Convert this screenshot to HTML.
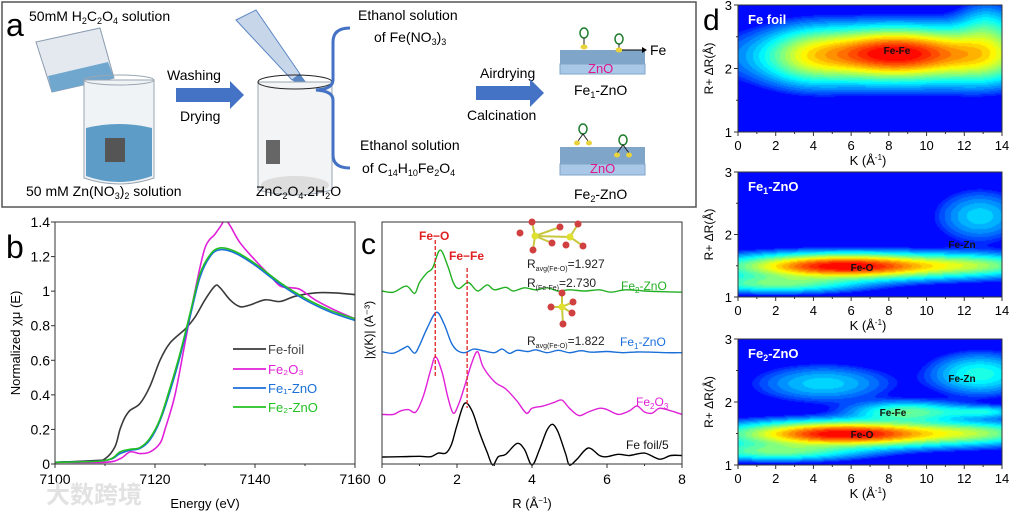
<!DOCTYPE html>
<html><head><meta charset="utf-8">
<style>
html,body{margin:0;padding:0;background:#fff;}
#wrap{position:relative;width:1009px;height:513px;overflow:hidden;font-family:"Liberation Sans","Noto Sans CJK SC",sans-serif;}
canvas{position:absolute;}
svg{position:absolute;left:0;top:0;}
text{font-family:"Liberation Sans","Noto Sans CJK SC",sans-serif;}
</style></head>
<body>
<div id="wrap">
<canvas id="hm0" width="264" height="127" style="left:738px;top:5px"></canvas>
<canvas id="hm1" width="264" height="125" style="left:738px;top:172px"></canvas>
<canvas id="hm2" width="264" height="126" style="left:738px;top:339px"></canvas>
<svg id="svg" width="1009" height="513" xmlns="http://www.w3.org/2000/svg">
<g>
<rect x="2" y="2" width="694" height="205" fill="#fff" stroke="#555" stroke-width="1.5"/>
<text x="6" y="36" font-size="32">a</text>
<text x="29" y="21" font-size="14">50mM H<tspan font-size="9" dy="3">2</tspan><tspan dy="-3">C</tspan><tspan font-size="9" dy="3">2</tspan><tspan dy="-3">O</tspan><tspan font-size="9" dy="3">4</tspan><tspan dy="-3"> solution</tspan></text>
<g>
<path d="M36 42 L100 28 L114 78 L52 92 Z" fill="#e4e9ef" stroke="#8a9bb0"/>
<path d="M48 76 L108 62 L114 78 L52 92 Z" fill="#6fa7cf"/>
<line x1="102" y1="82" x2="104" y2="120" stroke="#cfe3f2" stroke-width="2"/>
</g>
<g>
<path d="M84 80 L154 80 L154 178 Q119 190 84 178 Z" fill="#f0f3f6" stroke="#9aa6b2"/>
<ellipse cx="119" cy="80" rx="35" ry="5" fill="none" stroke="#9aa6b2"/>
<path d="M86 128 Q119 120 152 128 L152 176 Q119 188 86 176 Z" fill="#5e9cc8"/>
<rect x="105" y="138" width="20" height="24" fill="#555"/>
</g>
<text x="26" y="196" font-size="14">50 mM Zn(NO<tspan font-size="9" dy="3">3</tspan><tspan dy="-3">)</tspan><tspan font-size="9" dy="3">2</tspan><tspan dy="-3"> solution</tspan></text>
<text x="167" y="80" font-size="14">Washing</text>
<path d="M176 88 L230 88 L230 81 L244 95 L230 109 L230 102 L176 102 Z" fill="#4472c4"/>
<text x="180" y="121" font-size="14">Drying</text>
<g>
<path d="M236 20 L256 10 L300 74 L292 80 Z" fill="#c8d6ea" stroke="#5b86c4"/>
<path d="M292 80 L300 74 L312 90 L308 92 Z" fill="#5b86c4"/>
</g>
<g>
<path d="M258 82 L332 82 L332 190 Q295 200 258 190 Z" fill="#f3f4f5" stroke="#9aa6b2"/>
<ellipse cx="295" cy="82" rx="37" ry="7" fill="none" stroke="#222"/>
<rect x="266" y="140" width="14" height="24" fill="#666"/>
<ellipse cx="295" cy="185" rx="34" ry="9" fill="#ddd"/>
</g>
<text x="256" y="196" font-size="14">ZnC<tspan font-size="9" dy="3">2</tspan><tspan dy="-3">O</tspan><tspan font-size="9" dy="3">4</tspan><tspan dy="-3">.2H</tspan><tspan font-size="9" dy="3">2</tspan><tspan dy="-3">O</tspan></text>
<path d="M350 28 Q333 28 333 42 L333 80 Q333 89 316 90 Q333 91 333 100 L333 155 Q333 168 350 168" fill="none" stroke="#4472c4" stroke-width="3"/>
<text x="358" y="20" font-size="14">Ethanol solution</text>
<text x="374" y="42" font-size="14">of Fe(NO<tspan font-size="9" dy="3">3</tspan><tspan dy="-3">)</tspan><tspan font-size="9" dy="3">3</tspan></text>
<text x="360" y="150" font-size="14">Ethanol solution</text>
<text x="362" y="173" font-size="14">of C<tspan font-size="9" dy="3">14</tspan><tspan dy="-3">H</tspan><tspan font-size="9" dy="3">10</tspan><tspan dy="-3">Fe</tspan><tspan font-size="9" dy="3">2</tspan><tspan dy="-3">O</tspan><tspan font-size="9" dy="3">4</tspan></text>
<text x="480" y="78" font-size="14">Airdrying</text>
<path d="M476 86 L530 86 L530 79 L544 93 L530 107 L530 100 L476 100 Z" fill="#4472c4"/>
<text x="467" y="120" font-size="14">Calcination</text>
<g>
<path d="M560 50 L645 50 L645 64 L560 64 Z" fill="#7fa6c9"/>
<path d="M560 64 L645 64 L645 74 L560 74 Z" fill="#a9c8e8" stroke="#7fa6c9"/>
<text x="588" y="73" font-size="13" fill="#e0168c">ZnO</text>
<ellipse cx="584" cy="33" rx="4" ry="5" fill="none" stroke="#1a7a2a" stroke-width="1.5"/>
<line x1="584" y1="38" x2="584" y2="46" stroke="#222"/>
<ellipse cx="584" cy="47" rx="3.5" ry="2.5" fill="#e9d23a"/>
<ellipse cx="619" cy="39" rx="4" ry="5" fill="none" stroke="#1a7a2a" stroke-width="1.5"/>
<line x1="619" y1="44" x2="619" y2="49" stroke="#222"/>
<ellipse cx="619" cy="50" rx="3.5" ry="2.5" fill="#e9d23a"/>
<line x1="622" y1="50" x2="642" y2="50" stroke="#000"/><path d="M642 47 L647 50 L642 53 Z"/>
</g>
<text x="650" y="55" font-size="14">Fe</text>
<text x="574" y="95" font-size="14">Fe<tspan font-size="9" dy="3">1</tspan><tspan dy="-3">-ZnO</tspan></text>
<g>
<path d="M560 147 L645 147 L645 164 L560 164 Z" fill="#7fa6c9"/>
<path d="M560 164 L645 164 L645 175 L560 175 Z" fill="#a9c8e8" stroke="#7fa6c9"/>
<text x="590" y="173" font-size="13" fill="#e0168c">ZnO</text>
<ellipse cx="583" cy="129" rx="4" ry="5" fill="none" stroke="#1a7a2a" stroke-width="1.5"/>
<path d="M578 141 L583 134 L588 141" fill="none" stroke="#222"/>
<ellipse cx="577" cy="143" rx="3" ry="2.5" fill="#e9d23a"/><ellipse cx="589" cy="143" rx="3" ry="2.5" fill="#e9d23a"/>
<ellipse cx="623" cy="140" rx="4" ry="5" fill="none" stroke="#1a7a2a" stroke-width="1.5"/>
<path d="M617 153 L623 145 L629 153" fill="none" stroke="#222"/>
<ellipse cx="617" cy="155" rx="3" ry="2.5" fill="#e9d23a"/><ellipse cx="629" cy="155" rx="3" ry="2.5" fill="#e9d23a"/>
</g>
<text x="574" y="199" font-size="14">Fe<tspan font-size="9" dy="3">2</tspan><tspan dy="-3">-ZnO</tspan></text>
</g>
<g id="pb"></g>
<g id="pc"></g>
<g id="pd"></g>
<text x="46" y="503" font-size="24" fill="#e2e2e2" font-weight="bold">大数跨境</text>
</svg>
</div>
<script>
// ===== Panel b data (XANES) =====
const bFoilE=[7100,7108,7110,7112,7113,7114,7115,7117,7119,7121,7123,7126,7128,7130,7132,7133,7135,7137,7139,7142,7145,7148,7152,7156,7160];
const bFoilMu=[0.01,0.02,0.03,0.1,0.2,0.27,0.31,0.35,0.45,0.6,0.7,0.78,0.85,0.95,1.03,1.02,0.95,0.91,0.92,0.95,0.94,0.97,0.99,0.99,0.98];
const bFe2O3E=[7100,7110,7113,7115,7117,7119,7121,7122,7124,7126,7128,7130,7132,7133,7134,7135,7137,7140,7143,7145,7147,7149,7152,7156,7160];
const bFe2O3Mu=[0.01,0.01,0.03,0.07,0.06,0.07,0.12,0.2,0.4,0.7,1.0,1.25,1.33,1.37,1.41,1.38,1.28,1.18,1.09,1.03,1.02,1.01,0.95,0.89,0.84];
const bFe1E=[7100,7110,7113,7115,7117,7119,7121,7123,7125,7127,7129,7131,7133,7136,7140,7145,7150,7155,7160];
const bFe1Mu=[0.01,0.02,0.06,0.08,0.09,0.14,0.25,0.42,0.62,0.85,1.08,1.2,1.24,1.22,1.15,1.04,0.95,0.88,0.83];
const bFe2Mu=[0.01,0.02,0.07,0.085,0.095,0.15,0.26,0.44,0.64,0.87,1.1,1.21,1.25,1.23,1.16,1.05,0.96,0.89,0.84];
const bXTicks=[7100,7120,7140,7160];
const bYTicks=[0,0.2,0.4,0.6,0.8,1,1.2,1.4];
const bLegend=["Fe-foil","Fe₂O₃","Fe₁-ZnO","Fe₂-ZnO"];

// ===== Panel c data (FT-EXAFS, offset-stacked) =====
const cFoilR=[0,0.5,1.0,1.3,1.5,1.7,1.85,2.0,2.2,2.4,2.6,2.8,2.95,3.1,3.3,3.6,3.8,4.0,4.2,4.4,4.55,4.7,4.9,5.0,5.2,5.5,5.8,6.0,6.3,6.6,7.0,7.4,7.7,8];
const cFoilV=[0.29,0.3,0.32,0.3,0.45,0.45,0.8,1.6,2.5,2.2,1.3,0.5,-0.04,0.3,0.4,0.85,0.6,-0.04,0.6,1.4,1.64,1.3,0.4,-0.04,0.2,0.66,0.35,0.3,0.4,0.35,0.45,0.2,0.35,0.35];
const cFe2O3R=[0,0.3,0.5,0.7,0.9,1.1,1.3,1.43,1.6,1.75,1.9,2.05,2.2,2.4,2.55,2.7,3.0,3.3,3.6,3.85,4.0,4.3,4.6,4.8,5.0,5.25,5.5,5.8,6.0,6.3,6.6,6.8,7.0,7.2,7.4,7.7,8];
const cFe2O3V=[2.05,2.05,2.2,2.25,2.15,2.8,3.9,4.43,3.8,2.8,2.1,2.5,3.2,4.2,4.64,4.0,3.4,3.1,2.6,2.1,2.3,2.4,2.55,2.64,2.3,2.0,2.15,2.3,2.25,2.05,2.2,2.4,2.15,2.1,2.3,2.2,2.05];
const cFe1R=[0,0.3,0.6,0.7,0.87,1.0,1.2,1.45,1.65,1.85,2.0,2.2,2.45,2.7,3.0,3.2,3.4,3.6,3.9,4.1,4.4,4.7,5.0,5.3,5.6,6.0,6.4,6.8,7.2,7.6,8];
const cFe1V=[4.64,4.58,4.8,4.85,4.58,4.9,5.6,6.27,5.8,5.0,4.7,4.6,4.75,4.68,4.6,4.75,4.57,4.7,4.65,4.72,4.6,4.7,4.6,4.68,4.62,4.65,4.6,4.63,4.62,4.6,4.6];
const cFe2R=[0,0.3,0.65,0.87,1.0,1.2,1.35,1.55,1.75,1.9,2.05,2.3,2.55,2.8,3.0,3.3,3.5,3.8,4.1,4.4,4.7,5.0,5.4,5.8,6.1,6.5,7.0,7.5,8];
const cFe2V=[7.15,7.1,7.35,7.05,7.5,7.9,8.1,8.84,8.2,7.5,7.25,7.5,7.15,7.4,7.2,7.3,7.15,7.28,7.2,7.28,7.15,7.2,7.15,7.2,7.1,7.2,7.15,7.12,7.1];
const cXTicks=[0,2,4,6,8];
const cMarkers=[1.42,2.27];

// ===== Panel d data (wavelet peaks: k, R, amplitude, sigmaK, sigmaR) =====
const dFoilPeaks=[[8.3,2.25,0.7,2.4,0.22],[8.5,2.2,0.35,4.8,0.28],[3.8,2.2,0.25,1.5,0.27],[13,2.2,0.25,1.4,0.27],[13.2,2.65,0.15,1,0.25]];
const dFe1Peaks=[[5.5,1.5,0.65,2.8,0.11],[7,1.5,0.4,5.5,0.13],[12.5,1.52,0.15,2.0,0.1],[2,1.22,0.3,2.8,0.09],[12.8,2.3,0.15,1.4,0.25]];
const dFe2Peaks=[[5.5,1.5,0.65,2.8,0.11],[7,1.5,0.4,5.5,0.13],[12.5,1.52,0.15,2.0,0.1],[2,1.22,0.3,2.8,0.09],[9,1.85,0.3,1.8,0.1],[12.8,2.45,0.22,1.6,0.2],[4.5,2.3,0.15,2.2,0.18],[13,1.85,0.18,1.3,0.06]];
const dPanels=[dFoilPeaks,dFe1Peaks,dFe2Peaks];
const dXTicks=[0,2,4,6,8,10,12,14];
const dYTicks=[1,2,3];

const NS="http://www.w3.org/2000/svg";
function mk(parent,tag,attrs,txt){const e=document.createElementNS(NS,tag);for(const k in attrs)e.setAttribute(k,attrs[k]);if(txt!==undefined)e.textContent=txt;parent.appendChild(e);return e;}
function smoothPath(pts){let d="M"+pts[0][0].toFixed(1)+" "+pts[0][1].toFixed(1);for(let i=0;i<pts.length-1;i++){const p0=pts[i-1]||pts[i],p1=pts[i],p2=pts[i+1],p3=pts[i+2]||p2;const c1=[p1[0]+(p2[0]-p0[0])/6,p1[1]+(p2[1]-p0[1])/6],c2=[p2[0]-(p3[0]-p1[0])/6,p2[1]-(p3[1]-p1[1])/6];d+=" C"+c1[0].toFixed(1)+" "+c1[1].toFixed(1)+" "+c2[0].toFixed(1)+" "+c2[1].toFixed(1)+" "+p2[0].toFixed(1)+" "+p2[1].toFixed(1);}return d;}

// ----- Panel b -----
(function(){
const g=document.getElementById('pb');
const L=55,R=355,T=222,B=464;
const x=v=>L+(v-7100)/60*(R-L), y=v=>B-v/1.4*(B-T);
const t=mk(g,'text',{x:6,y:258,'font-size':32});t.textContent='b';


const series=[[bFoilE,bFoilMu,'#3a3a3a','fe-foil-curve'],[bFe2O3E,bFe2O3Mu,'#e020d8','fe2o3-curve'],[bFe1E,bFe1Mu,'#1a6fd8','fe1-zno-curve'],[bFe1E,bFe2Mu,'#22c022','fe2-zno-curve']];
const cp=mk(g,'clipPath',{id:'cb'});mk(cp,'rect',{x:L,y:T,width:R-L,height:B-T});
series.forEach(s=>{const p=mk(g,'path',{d:smoothPath(s[0].map((e,i)=>[x(e),y(s[1][i])])),fill:'none',stroke:s[2],'stroke-width':1.6,'clip-path':'url(#cb)'});

});
const fr=mk(g,'rect',{x:L,y:T,width:R-L,height:B-T,fill:'none',stroke:'#333','stroke-width':1});


bXTicks.forEach(v=>{mk(g,'line',{x1:x(v),x2:x(v),y1:B,y2:B+4,stroke:'#333'});const tl=mk(g,'text',{x:x(v),y:484,'font-size':14,'text-anchor':'middle'},String(v));

});
for(let v=7110;v<7160;v+=20)mk(g,'line',{x1:x(v),x2:x(v),y1:B,y2:B+2,stroke:'#333'});
bYTicks.forEach(v=>{mk(g,'line',{x1:L-4,x2:L,y1:y(v),y2:y(v),stroke:'#333'});const tl=mk(g,'text',{x:L-5,y:y(v)+5,'font-size':14,'text-anchor':'end'},String(v));

});
const xt=mk(g,'text',{x:205,y:508,'font-size':13,'text-anchor':'middle'},'Energy (eV)');


const yt=mk(g,'text',{x:0,y:0,'font-size':13,'text-anchor':'middle',transform:'translate(20,343) rotate(-90)'},'Normalized χμ (E)');


const ly=[349,369,388,407];
bLegend.forEach((n,i)=>{const le=mk(g,'g',{});


mk(le,'line',{x1:233,x2:266,y1:ly[i],y2:ly[i],stroke:series[i][2],'stroke-width':1.8});
mk(le,'text',{x:268,y:ly[i]+5,'font-size':13,fill:i==0?'#444':series[i][2]},n);});
})();

// ----- Panel c -----
(function(){
const g=document.getElementById('pc');
const L=382,R=682,T=222,B=464;
const x=v=>L+v/8*(R-L), y=v=>B-v*24.2;
const t=mk(g,'text',{x:361,y:254,'font-size':30},'c');


const series=[[cFoilR,cFoilV,'#000','fe-foil-ft-curve'],[cFe2O3R,cFe2O3V,'#e020d8','fe2o3-ft-curve'],[cFe1R,cFe1V,'#1a6fd8','fe1-zno-ft-curve'],[cFe2R,cFe2V,'#22b022','fe2-zno-ft-curve']];
series.forEach(s=>{const p=mk(g,'path',{d:smoothPath(s[0].map((e,i)=>[x(e),y(s[1][i])])),fill:'none',stroke:s[2],'stroke-width':1.4});

});
const mt=[[240,378],[268,408]];
cMarkers.forEach((m,i)=>{const l=mk(g,'line',{x1:x(m),x2:x(m),y1:mt[i][0],y2:mt[i][1],stroke:'#e02020','stroke-dasharray':'4,2','stroke-width':1.3});

});
const fr=mk(g,'rect',{x:L,y:T,width:R-L,height:B-T,fill:'none',stroke:'#333'});


cXTicks.forEach(v=>{mk(g,'line',{x1:x(v),x2:x(v),y1:B,y2:B+4,stroke:'#333'});const tl=mk(g,'text',{x:x(v),y:484,'font-size':14,'text-anchor':'middle'},String(v));

});
for(let v=1;v<8;v+=2)mk(g,'line',{x1:x(v),x2:x(v),y1:B,y2:B+2,stroke:'#333'});
const xt=mk(g,'text',{x:532,y:508,'font-size':13,'text-anchor':'middle'});xt.innerHTML='R (Å<tspan font-size="8" dy="-5">−1</tspan><tspan dy="5">)</tspan>';


const yt=mk(g,'text',{x:0,y:0,'font-size':12,'text-anchor':'middle',transform:'translate(373,330) rotate(-90)','font-family':'Liberation Serif'},'|χ(K)| (A⁻³)');


const lab=[[419,240,'Fe−O','#e02020',12,'bold','fe-o-label'],[449,260,'Fe−Fe','#e02020',12,'bold','fe-fe-label']];
lab.forEach(a=>{const e=mk(g,'text',{x:a[0],y:a[1],fill:a[3],'font-size':a[4],'font-weight':a[5]},a[2]);

});
const h=[[527,268,'R<tspan font-size="7" dy="3">avg(Fe-O)</tspan><tspan dy="-3">=1.927</tspan>','#222','r-avg-fe2'],[527,287,'R<tspan font-size="7" dy="3">(Fe-Fe)</tspan><tspan dy="-3">=2.730</tspan>','#222','r-fefe'],[621,290,'Fe<tspan font-size="8" dy="3">2</tspan><tspan dy="-3">-ZnO</tspan>','#22b022','fe2-zno-ft-label'],[527,345,'R<tspan font-size="7" dy="3">avg(Fe-O)</tspan><tspan dy="-3">=1.822</tspan>','#222','r-avg-fe1'],[620,346,'Fe<tspan font-size="8" dy="3">1</tspan><tspan dy="-3">-ZnO</tspan>','#1a6fd8','fe1-zno-ft-label'],[636,406,'Fe<tspan font-size="8" dy="3">2</tspan><tspan dy="-3">O</tspan><tspan font-size="8" dy="3">3</tspan>','#e020d8','fe2o3-ft-label'],[626,449,'Fe foil/5','#111','fe-foil-ft-label']];
h.forEach(a=>{const e=mk(g,'text',{x:a[0],y:a[1],fill:a[3],'font-size':12});e.innerHTML=a[2];

});
const m1=mk(g,'g',{});


mk(m1,'path',{d:'M535 236 L570 237 M535 236 L532 222 M535 236 L533 250 M570 237 L578 224 M570 237 L583 246 M535 236 L560 227 M535 236 L552 243',stroke:'#c8c840','stroke-width':2,fill:'none'});
[[535,236,'#e0e030'],[570,237,'#e0e030'],[532,222,'#d04040'],[533,250,'#d04040'],[520,233,'#d04040'],[560,227,'#d04040'],[552,243,'#d04040'],[578,224,'#d04040'],[583,246,'#d04040'],[566,245,'#d04040']].forEach(c=>mk(m1,'circle',{cx:c[0],cy:c[1],r:3.5,fill:c[2]}));
const m2=mk(g,'g',{});


mk(m2,'path',{d:'M562 307 L562 293 M562 307 L551 307 M562 307 L573 302 M562 307 L572 313 M562 307 L563 324',stroke:'#c8c840','stroke-width':2,fill:'none'});
[[562,307,'#e0e030'],[562,293,'#d04040'],[551,307,'#d04040'],[573,302,'#d04040'],[572,313,'#d04040'],[563,324,'#d04040']].forEach(c=>mk(m2,'circle',{cx:c[0],cy:c[1],r:3.5,fill:c[2]}));
})();

// ----- Panel d -----
function jet(v){v=Math.max(0,Math.min(1,v));const r=Math.min(1,Math.max(0,1.5-Math.abs(4*v-3))),g=Math.min(1,Math.max(0,1.5-Math.abs(4*v-2))),b=Math.min(1,Math.max(0,1.5-Math.abs(4*v-1)));return [r*255,g*255,b*255];}
const dBoxes=[[738,5,264,127],[738,172,264,125],[738,339,264,126]];
dPanels.forEach((peaks,pi)=>{
const cv=document.getElementById('hm'+pi),ctx=cv.getContext('2d');const W=cv.width,H=cv.height;const img=ctx.createImageData(W,H);
for(let j=0;j<H;j++){const Rv=3-2*j/H;for(let i=0;i<W;i++){const k=14*i/W;let s=0;peaks.forEach(p=>{s+=p[2]*Math.exp(-((k-p[0])**2)/(2*p[3]**2)-((Rv-p[1])**2)/(2*p[4]**2));});
let v=0.12+0.76*Math.pow(Math.max(0,Math.min(s,1)-0.03)/0.97,0.6);v=Math.round(v*30)/30;const c=jet(v);const o=(j*W+i)*4;img.data[o]=c[0];img.data[o+1]=c[1];img.data[o+2]=c[2];img.data[o+3]=255;}}
ctx.putImageData(img,0,0);
});
(function(){
const g=document.getElementById('pd');
const t=mk(g,'text',{x:703,y:30,'font-size':30},'d');


const titles=[['Fe foil',''],['Fe','1'],['Fe','2']];
const labels=[[[897,54,'Fe-Fe','#111']],[[962,248,'Fe-Zn','#111'],[862,271,'Fe-O','#111']],[[962,382,'Fe-Zn','#111'],[893,416,'Fe-Fe','#111'],[862,438,'Fe-O','#111']]];
dBoxes.forEach((b,pi)=>{const [L,T,W,H]=b;const x=v=>L+v/14*W,y=v=>T+(3-v)/2*H;
const fr=mk(g,'rect',{x:L,y:T,width:W,height:H,fill:'none',stroke:'#333'});


dXTicks.forEach(v=>{mk(g,'line',{x1:x(v),x2:x(v),y1:T+H,y2:T+H+4,stroke:'#333'});const tl=mk(g,'text',{x:x(v),y:T+H+18,'font-size':13,'text-anchor':'middle'},String(v));

});
for(let v=1;v<14;v+=2)mk(g,'line',{x1:x(v),x2:x(v),y1:T+H,y2:T+H+2,stroke:'#333'});
dYTicks.forEach(v=>{mk(g,'line',{x1:L-4,x2:L,y1:y(v),y2:y(v),stroke:'#333'});const tl=mk(g,'text',{x:L-6,y:y(v)+5,'font-size':13,'text-anchor':'end'},String(v));

});
[1.5,2.5].forEach(v=>mk(g,'line',{x1:L-2,x2:L,y1:y(v),y2:y(v),stroke:'#333'}));
const xt=mk(g,'text',{x:868,y:T+H+33,'font-size':13,'text-anchor':'middle'});xt.innerHTML='K (Å<tspan font-size="8" dy="-5">-1</tspan><tspan dy="5">)</tspan>';


const yt=mk(g,'text',{x:0,y:0,'font-size':12,'text-anchor':'middle',transform:'translate(713,'+(T+H/2)+') rotate(-90)'},'R+ ΔR(Å)');


const tt=mk(g,'text',{x:L+10,y:T+19,'font-size':13,'font-weight':'bold',fill:'#fff'});tt.innerHTML=titles[pi][1]?titles[pi][0]+'<tspan font-size="9" dy="3">'+titles[pi][1]+'</tspan><tspan dy="-3">-ZnO</tspan>':titles[pi][0];


labels[pi].forEach(a=>{const e=mk(g,'text',{x:a[0],y:a[1],'font-size':10,'font-weight':'bold','text-anchor':'middle',fill:a[3]},a[2]);

});
});
})();
</script>
</body></html>
